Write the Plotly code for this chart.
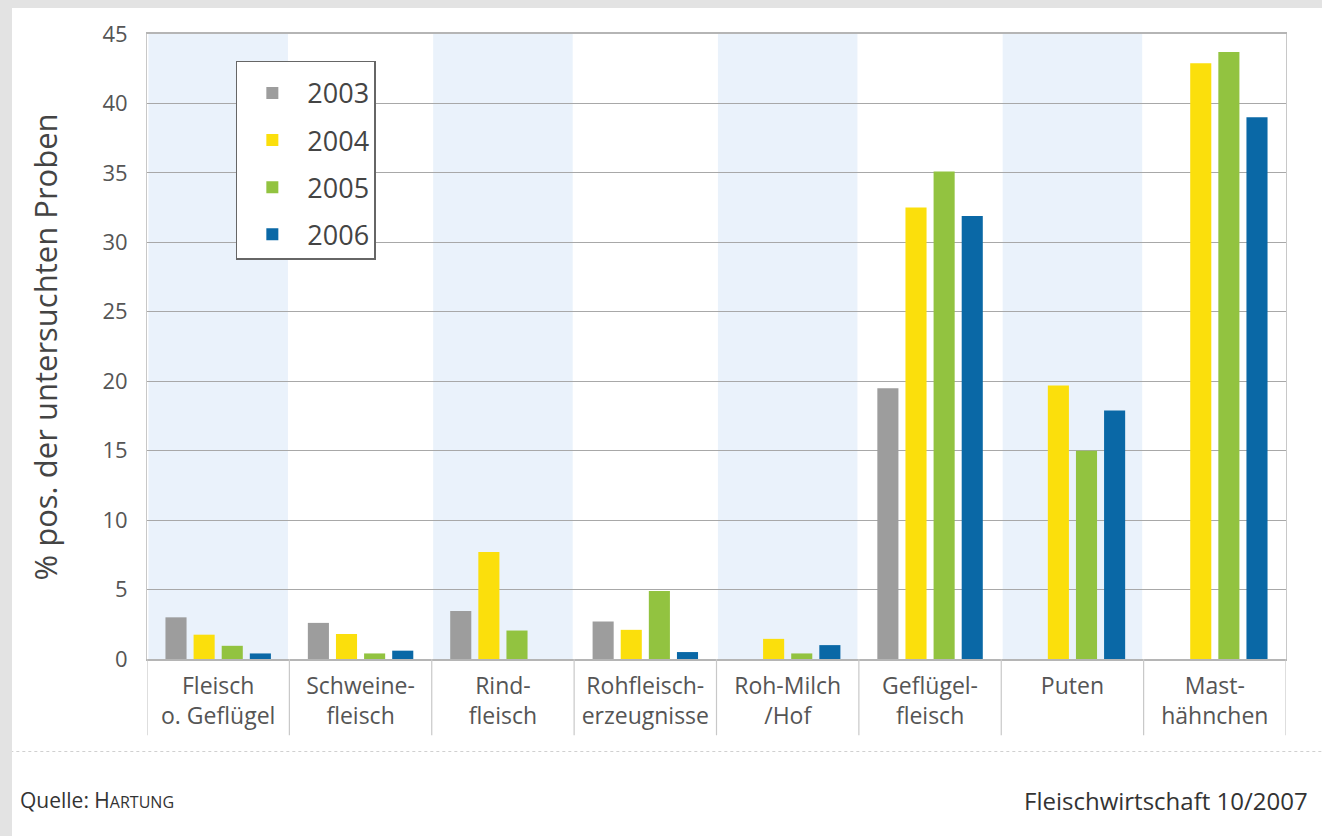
import plotly.graph_objects as go

categories = ["Fleisch<br>o. Geflügel", "Schweine-<br>fleisch", "Rind-<br>fleisch",
              "Rohfleisch-<br>erzeugnisse", "Roh-Milch<br>/Hof", "Geflügel-<br>fleisch",
              "Puten", "Mast-<br>hähnchen"]
years = ["2003", "2004", "2005", "2006"]
v2003 = [3.0, 2.6, 3.45, 2.7, 0, 19.5, 0, 0]
v2004 = [1.75, 1.8, 7.7, 2.1, 1.45, 32.5, 19.7, 42.9]
v2005 = [0.95, 0.4, 2.05, 4.9, 0.4, 35.1, 15.0, 43.7]
v2006 = [0.4, 0.6, 0, 0.5, 1.0, 31.9, 17.9, 39.0]
y_ticks = [0, 5, 10, 15, 20, 25, 30, 35, 40, 45]

series = [v2003, v2004, v2005, v2006]
colors = ["#9d9d9d", "#fbdf0c", "#92c340", "#0a68a6"]

FONT = "Open Sans, sans-serif"

fig = go.Figure()
xs = list(range(len(categories)))
for name, vals, col in zip(years, series, colors):
    fig.add_trace(go.Bar(x=xs, y=vals, name=name, marker_color=col,
                         marker_line_width=0, legendgroup=name))

shapes = []
# light blue bands behind alternating categories
for i in range(0, len(categories), 2):
    shapes.append(dict(type="rect", xref="x", yref="y", x0=i - 0.49, x1=i + 0.49,
                       y0=0, y1=45, fillcolor="#eaf2fb", line_width=0, layer="below"))
# category dividers below axis
for i in range(len(categories) + 1):
    shapes.append(dict(type="line", xref="x", yref="paper", x0=i - 0.5, x1=i - 0.5,
                       y0=0, y1=-0.122, line=dict(color="#c8c8c8", width=1.2)))
# footer separator
shapes.append(dict(type="line", xref="paper", yref="paper", x0=-0.12, x1=1.04,
                   y0=-0.148, y1=-0.148, line=dict(color="#d0d0d0", width=1.2, dash="dot")))
# gray frame strips (top and left)
shapes.append(dict(type="rect", xref="paper", yref="paper", x0=-0.14, x1=1.04,
                   y0=1.0416, y1=1.07, fillcolor="#e3e3e3", line_width=0))
shapes.append(dict(type="rect", xref="paper", yref="paper", x0=-0.14, x1=-0.1185,
                   y0=-0.3, y1=1.07, fillcolor="#e3e3e3", line_width=0))

fig.update_layout(
    width=1322, height=836,
    margin=dict(l=147, r=36, t=34, b=177),
    paper_bgcolor="white", plot_bgcolor="white",
    barmode="group", bargap=0.21, bargroupgap=0.25,
    font=dict(family=FONT, color="#444"),
    shapes=shapes,
    showlegend=True,
    legend=dict(x=0.078, y=0.957, xanchor="left", yanchor="top",
                bgcolor="white", bordercolor="#666", borderwidth=1.5,
                font=dict(size=27, family=FONT, color="#444"),
                title=dict(text=" ", font=dict(size=5)),
                tracegroupgap=9, itemwidth=60, entrywidth=150),
    xaxis=dict(tickmode="array", tickvals=xs, ticktext=categories,
               range=[-0.5, len(categories) - 0.5], showgrid=False,
               showline=True, linecolor="#b5b5b5", linewidth=1.5, mirror=True,
               ticks="", ticklabelstandoff=6,
               tickfont=dict(size=23, color="#555", family=FONT)),
    yaxis=dict(range=[0, 45], tickvals=y_ticks, showgrid=True, gridcolor="#a8a8a8",
               gridwidth=1.3, showline=True, linecolor="#c8c8c8", mirror=True,
               zeroline=False, ticks="", ticklabelstandoff=14,
               tickfont=dict(size=22, color="#555", family=FONT)),
    annotations=[
        dict(text="% pos. der untersuchten Proben", xref="paper", yref="paper",
             x=-0.0896, y=0.5, textangle=-90, showarrow=False,
             xanchor="center", yanchor="middle",
             font=dict(size=31, color="#444", family=FONT)),
        dict(text="Quelle: H<span style='font-size:16px'>ARTUNG</span>", xref="paper", yref="paper",
             x=-0.113, y=-0.226, xanchor="left", yanchor="middle", showarrow=False,
             font=dict(size=21, color="#333", family=FONT)),
        dict(text="Fleischwirtschaft 10/2007", xref="paper", yref="paper",
             x=1.0214, y=-0.226, xanchor="right", yanchor="middle", showarrow=False,
             font=dict(size=24, color="#333", family=FONT)),
    ],
)

fig.write_html("out.html")
